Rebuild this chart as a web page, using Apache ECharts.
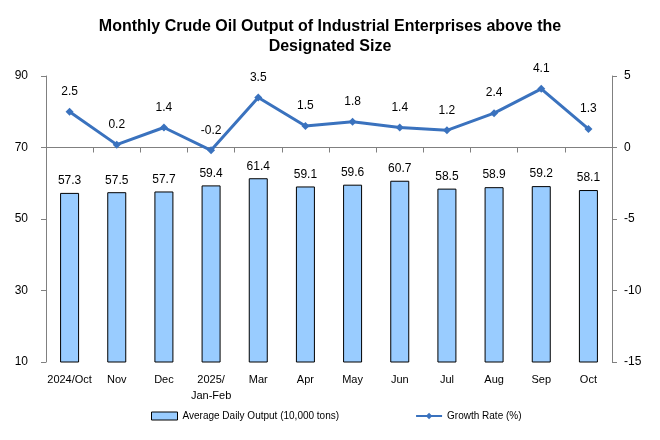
<!DOCTYPE html>
<html><head><meta charset="utf-8">
<script src="https://cdn.jsdelivr.net/npm/echarts@6/dist/echarts.min.js"></script>
<style>html,body{margin:0;padding:0;background:#fff}#c{width:660px;height:440px}</style>
</head><body><div id="c"></div>
<script>
const categories = ['2024/Oct','Nov','Dec','2025/\nJan-Feb','Mar','Apr','May','Jun','Jul','Aug','Sep','Oct'];
const outputValues = [57.3,57.5,57.7,59.4,61.4,59.1,59.6,60.7,58.5,58.9,59.2,58.1];
const growthValues = [2.5,0.2,1.4,-0.2,3.5,1.5,1.8,1.4,1.2,2.4,4.1,1.3];
const leftTicks = [10,30,50,70,90];
const rightTicks = [-15,-10,-5,0,5];

const chart = echarts.init(document.getElementById('c'));
const font = 'Liberation Sans, Arial, sans-serif';
chart.setOption({
  animation:false,
  title:{text:'Monthly Crude Oil Output of Industrial Enterprises above the\nDesignated Size',left:'center',top:12,
    textStyle:{fontSize:16,fontWeight:'bold',color:'#000',fontFamily:font,lineHeight:20}},
  grid:{left:46,right:48,top:76,bottom:78},
  legend:{bottom:14,left:146,itemGap:76,itemWidth:26,itemHeight:8,itemStyle:{borderColor:'#000',borderWidth:1},
    textStyle:{fontFamily:font,fontSize:10,color:'#000'},
    data:[{name:'Average Daily Output (10,000 tons)',icon:'rect'},{name:'Growth Rate (%)',itemStyle:{borderWidth:0}}]},
  xAxis:{type:'category',data:categories,
    axisLine:{lineStyle:{color:'#808080'}},
    axisTick:{show:true,alignWithLabel:false,lineStyle:{color:'#808080'}},
    axisLabel:{color:'#000',fontFamily:font,fontSize:11,margin:10,interval:0,lineHeight:16}},
  yAxis:[
    {type:'value',min:leftTicks[0],max:leftTicks[leftTicks.length-1],interval:20,
     axisLine:{show:true,lineStyle:{color:'#808080'}},axisTick:{show:true,lineStyle:{color:'#808080'}},
     splitLine:{show:false},axisLabel:{color:'#000',fontFamily:font,fontSize:12,margin:18}},
    {type:'value',min:rightTicks[0],max:rightTicks[rightTicks.length-1],interval:5,
     axisLine:{show:true,lineStyle:{color:'#808080'}},axisTick:{show:true,lineStyle:{color:'#808080'}},
     splitLine:{show:false},axisLabel:{color:'#000',fontFamily:font,fontSize:12,margin:12}}
  ],
  series:[
    {name:'Average Daily Output (10,000 tons)',type:'bar',data:outputValues,barWidth:19,yAxisIndex:0,
     itemStyle:{color:'#99CCFF',borderColor:'#000',borderWidth:1},
     label:{show:true,position:'top',distance:6,color:'#000',fontFamily:font,fontSize:12}},
    {name:'Growth Rate (%)',type:'line',data:growthValues,yAxisIndex:1,
     symbol:'diamond',symbolSize:8,
     lineStyle:{color:'#3A72BE',width:3},itemStyle:{color:'#3A72BE'},
     label:{show:true,position:'top',distance:10,color:'#000',fontFamily:font,fontSize:12}}
  ]
});
</script></body></html>
